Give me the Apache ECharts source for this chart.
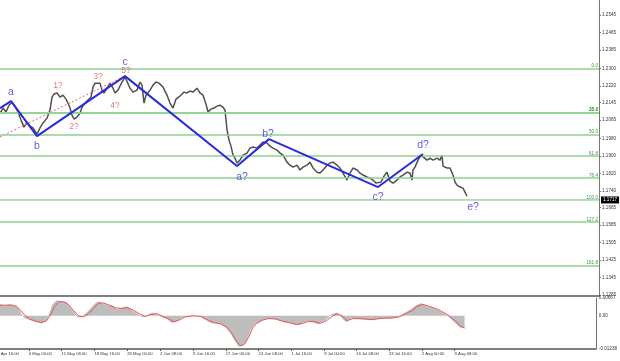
<!DOCTYPE html>
<html><head><meta charset="utf-8">
<script src="https://cdn.jsdelivr.net/npm/echarts@6/dist/echarts.min.js"></script>
<style>html,body{margin:0;padding:0;background:#fff;overflow:hidden}#c{width:632px;height:361px;margin-left:-12px}</style>
</head><body><div id="c"></div>
<script>
// ---- data ----
var priceBar = [0,3,6,9,12,15,18,21,24,27,30,33,37,40,43,47,50,52,54,57,60,63,66,68,70,72,74,77,80,82,85,88,91,93,95,97,100,102,104,107,110,113,115,118,122,125,127,130,133,137,140,142,144,146,150,153,156,159,163,167,170,173,176,180,184,187,190,193,197,200,203,206,208,211,214,217,220,223,225,227,229,231,233,235,237,240,243,247,250,253,257,260,263,267,270,273,277,280,283,287,290,293,297,300,303,307,310,313,317,320,323,327,330,333,337,340,343,347,350,353,357,360,363,367,370,373,376,378,381,384,387,390,393,397,400,403,407,410,412,413,415,418,421,423,427,430,433,437,440,442,443,447,450,453,455,457,460,463,465,467];
var priceClose = [1.2096,1.2120,1.2102,1.2133,1.2147,1.2129,1.2102,1.2065,1.2033,1.2056,1.2038,1.2029,1.2001,1.2029,1.2052,1.2074,1.2111,1.2170,1.2184,1.2189,1.2170,1.2179,1.2161,1.2143,1.2120,1.2088,1.2070,1.2079,1.2096,1.2124,1.2143,1.2157,1.2170,1.2216,1.2234,1.2225,1.2234,1.2202,1.2189,1.2211,1.2234,1.2211,1.2189,1.2202,1.2239,1.2262,1.2257,1.2211,1.2193,1.2202,1.2239,1.2225,1.2143,1.2179,1.2202,1.2225,1.2239,1.2234,1.2216,1.2179,1.2143,1.2120,1.2161,1.2175,1.2193,1.2189,1.2198,1.2193,1.2211,1.2189,1.2179,1.2138,1.2102,1.2115,1.2120,1.2129,1.2133,1.2124,1.2111,1.2020,1.1974,1.1946,1.1905,1.1891,1.1869,1.1882,1.1905,1.1914,1.1937,1.1942,1.1937,1.1951,1.1965,1.1960,1.1946,1.1937,1.1928,1.1914,1.1905,1.1873,1.1859,1.1850,1.1859,1.1837,1.1850,1.1859,1.1873,1.1846,1.1827,1.1823,1.1837,1.1859,1.1869,1.1873,1.1859,1.1846,1.1823,1.1791,1.1823,1.1846,1.1837,1.1823,1.1814,1.1805,1.1800,1.1791,1.1777,1.1768,1.1782,1.1809,1.1827,1.1786,1.1777,1.1791,1.1805,1.1814,1.1827,1.1823,1.1791,1.1837,1.1850,1.1882,1.1905,1.1896,1.1882,1.1891,1.1882,1.1891,1.1882,1.1905,1.1855,1.1846,1.1846,1.1814,1.1782,1.1768,1.1759,1.1754,1.1736,1.1717];
var lastPrice = 1.1717;

var priceTicks = [1.2545,1.2465,1.2385,1.2300,1.2220,1.2145,1.2065,1.1980,1.1900,1.1820,1.1740,1.1665,1.1585,1.1505,1.1425,1.1345,1.1265];
var timeTickBars = [-5,29,62,95,128,161,194,227,260,293,326,358,391,424,457];
var timeTickLabels = ['27 Apr 16:00','4 May 00:00','11 May 08:00','18 May 16:00','26 May 00:00','2 Jun 08:00','9 Jun 16:00','17 Jun 00:00','24 Jun 08:00','1 Jul 16:00','9 Jul 00:00','16 Jul 08:00','23 Jul 16:00','2 Aug 00:00','9 Aug 08:00'];

var fibNames = ['0.0','23.6','38.2','50.0','61.8','76.4','100.0','127.2','161.8'];
var fibPrices = [1.2275,1.2142,1.2062,1.1994,1.1927,1.1845,1.1713,1.1560,1.1366];

var waveBars = [0,11,37,125,237,269,378,423];
var wavePrices = [1.2120,1.2152,1.1992,1.2266,1.1855,1.1978,1.1759,1.1910];
var waveLabelNames = ['a','b','c','a?','b?','c?','d?','e?'];
var waveLabelBars = [11,37,125,242,268,378,423,473];
var waveLabelPrices = [1.2193,1.1946,1.2330,1.1805,1.2001,1.1713,1.1951,1.1668];
var subLabelNames = ['1?','2?','3?','4?','5?'];
var subLabelBars = [58,74,98,115,126];
var subLabelPrices = [1.2221,1.2033,1.2262,1.2129,1.2289];
var channelBars = [0,125];
var channelPrices = [1.1988,1.2266];

var oscBars = [0,5,10,15,18,22,25,30,37,42,47,50,53,57,62,67,70,75,78,82,87,92,97,100,103,108,113,118,123,128,133,138,143,148,153,158,163,168,173,178,183,192,200,207,213,220,227,232,236,240,244,248,252,256,260,267,273,280,287,293,300,305,310,315,320,327,333,338,343,348,353,363,373,383,393,400,407,413,418,423,430,437,443,450,457,462,467];
var oscHist = [0.0042,0.0038,0.0042,0.0038,0.0030,0.0004,-0.0008,-0.0015,-0.0023,-0.0027,-0.0015,0.0011,0.0042,0.0057,0.0053,0.0050,0.0034,0.0011,-0.0004,-0.0004,0.0011,0.0030,0.0050,0.0053,0.0046,0.0038,0.0038,0.0023,0.0030,0.0034,0.0019,0.0008,-0.0004,0.0000,0.0011,0.0004,-0.0004,-0.0011,-0.0027,-0.0019,-0.0004,0.0000,0.0000,-0.0015,-0.0027,-0.0027,-0.0042,-0.0065,-0.0091,-0.0114,-0.0110,-0.0091,-0.0050,-0.0030,-0.0023,-0.0011,-0.0008,-0.0015,-0.0023,-0.0027,-0.0034,-0.0023,-0.0019,-0.0023,-0.0030,-0.0015,0.0004,0.0011,-0.0004,-0.0023,-0.0008,-0.0011,-0.0015,-0.0008,-0.0008,-0.0004,0.0011,0.0023,0.0038,0.0046,0.0034,0.0027,0.0015,0.0000,-0.0023,-0.0042,-0.0046];
var sigBars = [0,6,12,17,21,25,30,36,42,47,51,55,59,64,69,74,79,84,89,94,99,104,110,116,122,128,134,140,146,152,158,164,170,175,180,186,194,202,208,215,222,228,233,238,242,246,250,254,258,264,270,277,284,291,298,304,310,316,322,328,334,339,344,349,355,364,374,384,394,402,408,414,419,425,431,438,444,451,458,463,467];
var sigVals = [0.0040,0.0040,0.0040,0.0035,0.0020,0.0002,-0.0012,-0.0020,-0.0025,-0.0018,0.0005,0.0035,0.0052,0.0053,0.0042,0.0020,0.0000,-0.0004,0.0008,0.0028,0.0047,0.0048,0.0040,0.0030,0.0028,0.0031,0.0022,0.0008,-0.0002,0.0006,0.0008,-0.0002,-0.0012,-0.0022,-0.0016,-0.0004,0.0000,-0.0002,-0.0014,-0.0025,-0.0030,-0.0042,-0.0065,-0.0095,-0.0112,-0.0105,-0.0080,-0.0045,-0.0028,-0.0016,-0.0010,-0.0012,-0.0020,-0.0026,-0.0032,-0.0028,-0.0021,-0.0022,-0.0028,-0.0018,-0.0002,0.0008,0.0000,-0.0018,-0.0010,-0.0011,-0.0014,-0.0009,-0.0008,-0.0003,0.0008,0.0020,0.0034,0.0043,0.0036,0.0028,0.0017,0.0002,-0.0020,-0.0038,-0.0045];
var oscTicks = [0.00667,0,-0.01238];
var oscTickLabels = ['0.00667','0.00','-0.01238'];

// ---- build ----
function zip(a,b){return a.map(function(v,i){return [v,b[i]];});}
var FONT = 'Liberation Sans';
var chart = echarts.init(document.getElementById('c'), null, {renderer:'canvas'});

var fibMarks = fibPrices.map(function(p,i){
  return {yAxis:p, lineStyle:{color:'#8fd08f',width:1.5,type:'solid'},
    label:{show:true,formatter:fibNames[i],position:'insideEndTop',distance:[1,0],color:'#3a9a3a',fontSize:4.6,fontFamily:FONT}};
});
fibMarks.push({yAxis:lastPrice, lineStyle:{color:'#d8d8d8',width:0.6,type:'solid'},
  label:{show:true,position:'end',distance:2,formatter:lastPrice.toFixed(4),color:'#fff',backgroundColor:'#000',padding:[1,2,1,2],fontSize:4.6,fontFamily:FONT}});

var option = {
  animation:false,
  backgroundColor:'#fff',
  grid:[
    {left:0,right:21,top:0,height:296},
    {left:0,right:21,top:298,height:51}
  ],
  xAxis:[
    {type:'value',gridIndex:0,min:-12,max:599,splitLine:{show:false},axisTick:{show:false},axisLabel:{show:false},
     axisLine:{show:true,onZero:false,lineStyle:{color:'#555',width:1.5}}},
    {type:'value',gridIndex:1,min:-12,max:599,splitLine:{show:false},
     axisLine:{show:true,onZero:false,lineStyle:{color:'#555',width:1.5}},
     axisTick:{show:true,customValues:timeTickBars,length:2,lineStyle:{color:'#555'}},
     axisLabel:{show:true,customValues:timeTickBars,align:'left',margin:3,fontSize:4.2,color:'#333',fontFamily:FONT,
       formatter:function(v){var i=timeTickBars.indexOf(v);return i>=0?timeTickLabels[i]:'';}}}
  ],
  yAxis:[
    {type:'value',gridIndex:0,position:'right',min:1.1261,max:1.2614,splitLine:{show:false},
     axisLine:{show:true,onZero:false,lineStyle:{color:'#777',width:1}},
     axisTick:{show:true,customValues:priceTicks,length:2,lineStyle:{color:'#777'}},
     axisLabel:{show:true,customValues:priceTicks,margin:3,fontSize:4.6,color:'#333',fontFamily:FONT,
       formatter:function(v){return v.toFixed(4);}}},
    {type:'value',gridIndex:1,position:'right',min:-0.01238,max:0.00667,splitLine:{show:false},
     axisLine:{show:true,onZero:false,lineStyle:{color:'#777',width:1}},
     axisTick:{show:false},
     axisLabel:{show:true,customValues:oscTicks,margin:3,fontSize:4.6,color:'#333',fontFamily:FONT,
       formatter:function(v){var i=oscTicks.indexOf(v);return i>=0?oscTickLabels[i]:'';}}}
  ],
  series:[
    {type:'line',xAxisIndex:0,yAxisIndex:0,data:zip(priceBar,priceClose),symbol:'none',z:3,
     lineStyle:{color:'#505050',width:1.5},
     markLine:{silent:true,symbol:'none',animation:false,data:fibMarks}},
    {type:'line',xAxisIndex:0,yAxisIndex:0,data:zip(channelBars,channelPrices),symbol:'none',z:4,
     lineStyle:{color:'#e06a6a',width:1,type:[2,2]}},
    {type:'line',xAxisIndex:0,yAxisIndex:0,data:zip(waveBars,wavePrices),symbol:'none',z:5,
     lineStyle:{color:'#2a2ae0',width:2}},
    {type:'scatter',xAxisIndex:0,yAxisIndex:0,symbolSize:0,z:6,
     data:waveLabelNames.map(function(n,i){return {name:n,value:[waveLabelBars[i],waveLabelPrices[i]]};}),
     label:{show:true,position:'inside',formatter:'{b}',color:'#3535d8',fontSize:10.5,fontFamily:FONT}},
    {type:'scatter',xAxisIndex:0,yAxisIndex:0,symbolSize:0,z:6,
     data:subLabelNames.map(function(n,i){return {name:n,value:[subLabelBars[i],subLabelPrices[i]]};}),
     label:{show:true,position:'inside',formatter:'{b}',color:'#e05a5a',fontSize:8.5,fontFamily:FONT}},
    {type:'line',xAxisIndex:1,yAxisIndex:1,data:zip(oscBars,oscHist),symbol:'none',z:2,
     lineStyle:{color:'#b5b5b5',width:0.5},areaStyle:{color:'#bdbdbd',opacity:1}},
    {type:'line',xAxisIndex:1,yAxisIndex:1,data:zip(sigBars,sigVals),symbol:'none',z:3,
     lineStyle:{color:'#f05050',width:1}}
  ]
};
chart.setOption(option);
</script>
</body></html>
